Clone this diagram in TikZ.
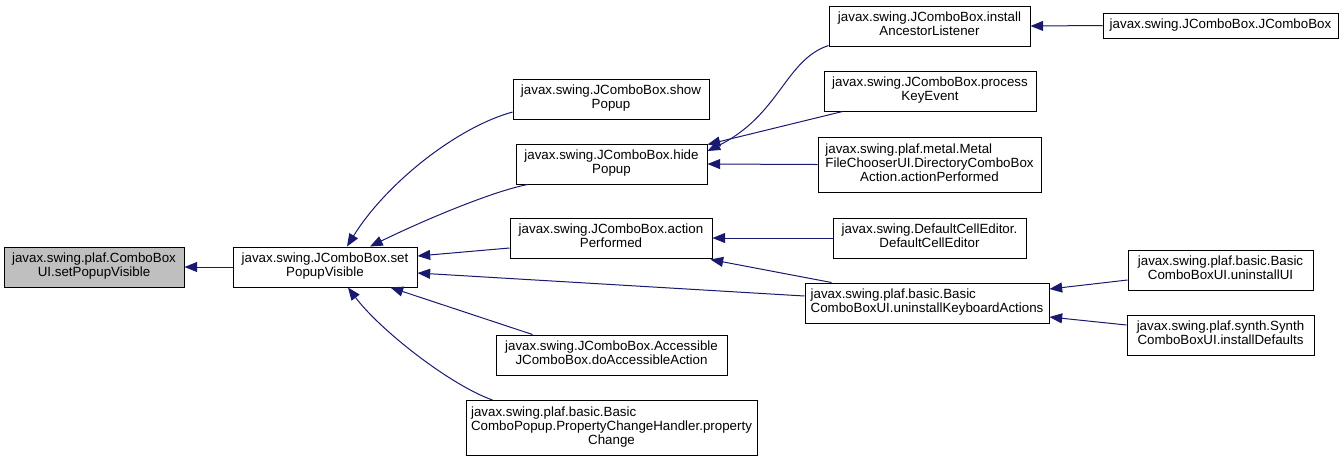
\documentclass[tikz,border=0pt]{standalone}
\usepackage{fontspec}
\setmainfont{Liberation Sans}
\usetikzlibrary{arrows.meta,calc}
\definecolor{mblue}{HTML}{191970}
\definecolor{selgray}{HTML}{BFBFBF}
\newcommand{\twol}[2]{\begin{tabular}{@{}l@{}}#1\\\multicolumn{1}{@{}c@{}}{#2}\end{tabular}}
\newcommand{\threel}[3]{\begin{tabular}{@{}l@{}}#1\\#2\\\multicolumn{1}{@{}c@{}}{#3}\end{tabular}}
\tikzset{
  box/.style={draw=black, line width=0.75pt, fill=white, inner sep=0pt,
    font=\fontsize{10}{10.5}\selectfont, minimum width=#1*0.75pt, minimum height=30pt},
  box3/.style={box=#1, minimum height=41.25pt},
  box1/.style={box=#1, minimum height=18.75pt},
  edge/.style={draw=mblue, line width=0.75pt, -{Triangle[length=9.5pt,width=7.5pt]}}
}
\begin{document}
\begin{tikzpicture}[x=0.75pt,y=-0.75pt]
\useasboundingbox[fill=white] (0,0) rectangle (1344,462);
\renewcommand{\arraystretch}{1}
% nodes
\node[box=180, fill=selgray] (A) at (94,267) {\twol{javax.swing.plaf.ComboBox}{UI.setPopupVisible}};
\node[box=184] (B) at (325,267) {\twol{javax.swing.JComboBox.set}{PopupVisible}};
\node[box=196] (show) at (611,99) {\twol{javax.swing.JComboBox.show}{Popup}};
\node[box=191] (hide) at (611.5,164) {\twol{javax.swing.JComboBox.hide}{Popup}};
\node[box=202] (action) at (611,238) {\twol{javax.swing.JComboBox.action}{Performed}};
\node[box=231] (acc) at (611.5,355) {\twol{javax.swing.JComboBox.Accessible}{JComboBox.doAccessibleAction}};
\node[box3=291] (pch) at (611.5,428) {\threel{javax.swing.plaf.basic.Basic}{ComboPopup.PropertyChangeHandler.property}{Change}};
\node[box=201] (ianc) at (929.5,26) {\twol{javax.swing.JComboBox.install}{AncestorListener}};
\node[box=212] (pke) at (930,91) {\twol{javax.swing.JComboBox.process}{KeyEvent}};
\node[box3=223] (metal) at (929.5,164.5) {\threel{javax.swing.plaf.metal.Metal}{FileChooserUI.DirectoryComboBox}{Action.actionPerformed}};
\node[box=193] (dce) at (929.5,238) {\twol{javax.swing.DefaultCellEditor.}{DefaultCellEditor}};
\node[box=244] (ukb) at (927,303) {\twol{javax.swing.plaf.basic.Basic}{ComboBoxUI.uninstallKeyboardActions}};
\node[box1=235] (jcb) at (1220.5,25.5) {javax.swing.JComboBox.JComboBox};
\node[box=185] (uui) at (1220.5,270) {\twol{javax.swing.plaf.basic.Basic}{ComboBoxUI.uninstallUI}};
\node[box=187] (idf) at (1220.5,335) {\twol{javax.swing.plaf.synth.Synth}{ComboBoxUI.installDefaults}};
% edges
\draw[edge] (B.west) -- (A.east);
\draw[edge] ($(show.west)+(0,13)$) .. controls (455,128) and (385,185) .. ($(B.north)+(22,0)$);
\draw[edge] ($(hide.south west)+(12,0)$) .. controls (490,192) and (420,222) .. ($(B.north)+(45,0)$);
\draw[edge] ($(action.west)+(0,10)$) -- ($(B.east)+(0,-11)$);
\draw[edge] ($(ukb.west)+(0,-7)$) -- ($(B.east)+(0,6)$);
\draw[edge] ($(acc.north west)+(37,0)$) -- ($(B.south east)+(-27,0)$);
\draw[edge] ($(pch.north west)+(27,0)$) .. controls (450,385) and (380,330) .. ($(B.south)+(23,0)$);
\draw[edge] ($(ianc.south west)+(0,-1)$) .. controls (785,60) and (780,115) .. ($(hide.east)+(0,-13)$);
\draw[edge] ($(pke.south west)+(19,0)$) -- ($(hide.north east)+(0,1)$);
\draw[edge] (metal.west) -- (hide.east);
\draw[edge] (jcb.west) -- (ianc.east);
\draw[edge] (dce.west) -- (action.east);
\draw[edge] ($(ukb.north west)+(27,0)$) -- ($(action.south east)+(-2,1)$);
\draw[edge] ($(uui.west)+(0,10)$) -- ($(ukb.east)+(0,-14)$);
\draw[edge] ($(idf.west)+(0,-10)$) -- ($(ukb.east)+(0,14)$);
\end{tikzpicture}
\end{document}
